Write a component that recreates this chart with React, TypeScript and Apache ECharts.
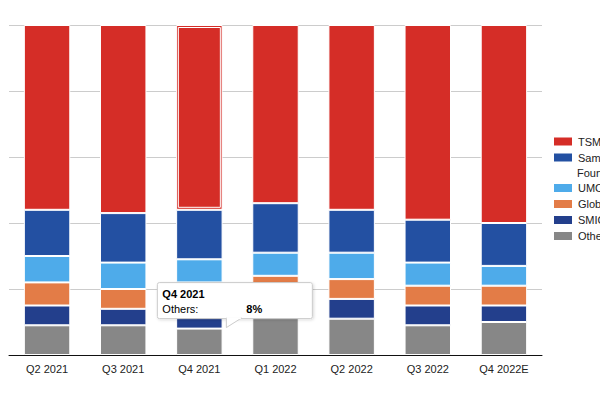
import React, { useEffect, useRef } from "react";
import * as echarts from "echarts";

const categories = ["Q2 2021", "Q3 2021", "Q4 2021", "Q1 2022", "Q2 2022", "Q3 2022", "Q4 2022E"];
const others = [9, 9, 8, 12, 11, 9, 10];
const smic = [6, 5, 7, 6, 6, 6, 5];
const globalFoundries = [7, 6, 7, 6, 6, 6, 6];
const umc = [8, 8, 7, 7, 8, 7, 6];
const samsung = [14, 15, 15, 15, 13, 13, 13];
const tsmc = [56, 57, 56, 54, 56, 59, 60];
const legendTop = ["TSMC", "Samsung Foundry"];
const legendBottom = ["UMC", "GlobalFoundries", "SMIC", "Others"];
const yTicks = [0, 20, 40, 60, 80, 100];

const FONT = 'Arial, "Liberation Sans", sans-serif';

export default function App() {
  const ref = useRef<HTMLDivElement>(null);
  useEffect(() => {
    if (!ref.current) return;
    const chart = echarts.init(ref.current, null, { renderer: "svg" });
    const mk = (name: string, data: number[], color: string) => ({
      name,
      type: "bar",
      stack: "share",
      data,
      barWidth: "61%",
      itemStyle: { color, borderColor: "#ffffff", borderWidth: 1 },
    });
    const legendBase = {
      orient: "vertical",
      left: 552,
      padding: 0,
      itemWidth: 20,
      itemHeight: 10,
      itemGap: 1,
      icon: "rect",
      textStyle: { color: "#222", fontSize: 11, lineHeight: 15, fontFamily: FONT },
    };
    chart.setOption({
      animation: false,
      textStyle: { fontFamily: FONT },
      grid: { left: 9, right: 58, top: 25, bottom: 45, containLabel: false },
      xAxis: {
        type: "category",
        data: categories,
        axisLine: { lineStyle: { color: "#111", width: 1 } },
        axisTick: { show: false },
        axisLabel: { color: "#222", fontSize: 11, fontFamily: FONT, margin: 8 },
      },
      yAxis: {
        type: "value",
        min: yTicks[0],
        max: yTicks[yTicks.length - 1],
        interval: 20,
        axisLabel: { show: false },
        axisLine: { show: false },
        axisTick: { show: false },
        splitLine: { lineStyle: { color: "#cccccc", width: 1 } },
      },
      legend: [
        {
          ...legendBase,
          top: 134,
          data: legendTop,
          formatter: (n: string) => (n === "Samsung Foundry" ? "Samsung" : n),
        },
        { ...legendBase, top: 180.5, data: legendBottom },
      ],
      series: [
        mk("Others", others, "#878787"),
        mk("SMIC", smic, "#233f8c"),
        mk("GlobalFoundries", globalFoundries, "#e37c47"),
        mk("UMC", umc, "#4eabea"),
        mk("Samsung Foundry", samsung, "#2350a2"),
        mk("TSMC", tsmc, "#d52d27"),
      ],
    });

    const idx = categories.indexOf("Q4 2021");
    const below = others[idx] + smic[idx] + globalFoundries[idx] + umc[idx] + samsung[idx];
    const top = chart.convertToPixel({ xAxisIndex: 0, yAxisIndex: 0 }, [idx, 100]);
    const bot = chart.convertToPixel({ xAxisIndex: 0, yAxisIndex: 0 }, [idx, below]);
    const oth = chart.convertToPixel({ xAxisIndex: 0, yAxisIndex: 0 }, [idx, others[idx]]);
    const cx = top[0];
    const bw = 47;
    const oy = oth[1];
    chart.setOption({
      graphic: [
        {
          type: "text",
          x: 577,
          y: 172.5,
          style: { text: "Foundry", font: `11px ${FONT}`, fill: "#222", verticalAlign: "middle" },
        },
        {
          type: "rect",
          shape: { x: cx - bw / 2 + 2.5, y: top[1] + 2.5, width: bw - 5, height: bot[1] - top[1] - 5 },
          style: { fill: "none", stroke: "#ffffff", lineWidth: 1 },
          z: 100,
        },
        {
          type: "rect",
          shape: { x: cx - 42, y: oy - 46, width: 155, height: 36, r: 2 },
          style: {
            fill: "#ffffff",
            stroke: "#cccccc",
            lineWidth: 1,
            shadowBlur: 3,
            shadowColor: "rgba(0,0,0,0.15)",
            shadowOffsetX: 1,
            shadowOffsetY: 1,
          },
          z: 110,
        },
        {
          type: "polygon",
          shape: { points: [[cx + 27, oy - 10.5], [cx + 27, oy - 1], [cx + 42, oy - 10.5]] },
          style: { fill: "#ffffff", stroke: "#cccccc", lineWidth: 1 },
          z: 111,
        },
        {
          type: "rect",
          shape: { x: cx + 27.5, y: oy - 11.5, width: 14, height: 2 },
          style: { fill: "#ffffff" },
          z: 112,
        },
        {
          type: "text",
          x: cx - 37,
          y: oy - 35,
          style: { text: "Q4 2021", font: `bold 11px ${FONT}`, fill: "#000", verticalAlign: "middle" },
          z: 113,
        },
        {
          type: "text",
          x: cx - 37,
          y: oy - 20,
          style: { text: "Others:", font: `11px ${FONT}`, fill: "#000", verticalAlign: "middle" },
          z: 113,
        },
        {
          type: "text",
          x: cx + 47,
          y: oy - 20,
          style: { text: `${others[idx]}%`, font: `bold 11px ${FONT}`, fill: "#000", verticalAlign: "middle" },
          z: 113,
        },
      ],
    });
    return () => chart.dispose();
  }, []);
  return <div ref={ref} style={{ width: 600, height: 400, position: "absolute", left: 0, top: 0 }} />;
}
